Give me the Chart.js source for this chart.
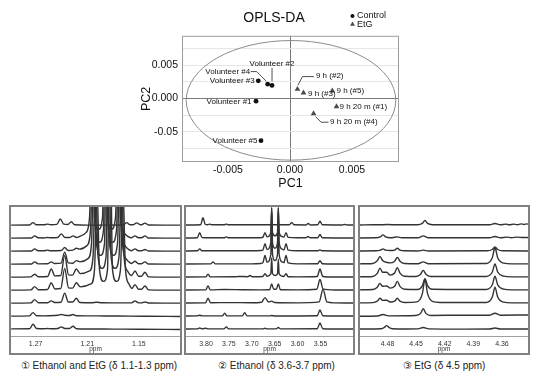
<!DOCTYPE html>
<html>
<head>
<meta charset="utf-8">
<script src="https://cdn.jsdelivr.net/npm/chart.js@4.4.1/dist/chart.umd.min.js"></script>
<style>
  body { margin:0; background:#fff; width:538px; height:386px; position:relative; overflow:hidden;
         font-family:"Liberation Sans", Arial, sans-serif; }
  canvas { position:absolute; }
  .panel { position:absolute; border:2px solid #808080; box-sizing:border-box; }
  .panel canvas { left:0; top:0; }
  .cap { position:absolute; top:360px; font-size:10px; line-height:12px; color:#222; text-align:center; white-space:nowrap; }
</style>
</head>
<body>
<canvas id="score" width="293" height="194" style="left:130px;top:0"></canvas>
<div class="panel" style="left:9px;top:205px;width:173px;height:150px"><canvas id="p1" width="169" height="146"></canvas></div>
<div class="panel" style="left:184px;top:205px;width:171px;height:150px"><canvas id="p2" width="167" height="146"></canvas></div>
<div class="panel" style="left:358px;top:205px;width:172px;height:150px"><canvas id="p3" width="168" height="146"></canvas></div>
<div class="cap" style="left:9px;width:180px">&#9312; Ethanol and EtG (&#948; 1.1-1.3 ppm)</div>
<div class="cap" style="left:186px;width:181px">&#9313; Ethanol (&#948; 3.6-3.7 ppm)</div>
<div class="cap" style="left:359px;width:170px">&#9314; EtG (&#948; 4.5 ppm)</div>
<script>
// ---- OPLS-DA scores ----
const controlNames = ["Volunteer #1", "Volunteer #2", "Volunteer #3", "Volunteer #4", "Volunteer #5"];
const controlPC1 = [-0.00274, -0.00145, -0.00256, -0.0018, -0.00234];
const controlPC2 = [-0.00042, 0.00195, 0.00263, 0.00213, -0.00634];
const etgNames = ["9 h (#2)", "9 h (#3)", "9 h (#5)", "9 h 20 m (#1)", "9 h 20 m (#4)"];
const etgPC1 = [0.0006, 0.00109, 0.00341, 0.00375, 0.0019];
const etgPC2 = [0.00138, 0.00083, 0.00113, -0.00123, -0.00228];
const xTicks = [-0.005, 0, 0.005];
const xTickLabels = ["-0.005", "0.000", "0.005"];
const yTicks = [-0.005, 0, 0.005];
const yTickLabels = ["-0.05", "0.000", "0.005"];
const yGrid = [-0.0075, -0.005, -0.0025, 0, 0.0025, 0.005, 0.0075];
const ellipse = { cx: 0.00008, cy: -0.00029, rx: 0.00845, ry: 0.00896 };

// ---- 1H NMR traces: [ppm, intensity, ppm, intensity, ...], top trace first ----
const ppmTicks1 = [1.27, 1.21, 1.15];
const ppmTicks2 = [3.80, 3.75, 3.70, 3.65, 3.60, 3.55];
const ppmTicks3 = [4.48, 4.45, 4.42, 4.39, 4.36];

const spectra1 = [
  [1.2985,0.03, 1.2771,0.04, 1.2731,0.22, 1.2691,0.05, 1.2605,0.05, 1.2565,0.10, 1.2525,0.06, 1.2454,0.08, 1.2414,0.50, 1.2374,0.10, 1.2326,0.08, 1.2286,0.28, 1.2246,0.05, 1.2100,0.03, 1.1900,0.03, 1.1682,0.04, 1.1642,0.22, 1.1602,0.05, 1.1565,0.05, 1.1525,0.20, 1.1485,0.06, 1.1469,0.06, 1.1429,0.18, 1.1389,0.04, 1.1200,0.03, 1.1022,0.03],
  [1.2985,0.03, 1.2752,0.04, 1.2712,0.20, 1.2672,0.05, 1.2605,0.04, 1.2565,0.08, 1.2525,0.05, 1.2442,0.07, 1.2402,0.35, 1.2362,0.08, 1.2306,0.07, 1.2266,0.20, 1.2226,0.08, 1.2190,0.15, 1.2115,0.45, 1.2074,1.6, 1.2045,8, 1.2016,1.6, 1.1970,0.7, 1.1923,1.6, 1.1894,14, 1.1865,1.6, 1.1819,0.7, 1.1772,1.6, 1.1743,8, 1.1714,1.6, 1.1673,0.45, 1.1620,0.12, 1.1585,0.06, 1.1545,0.20, 1.1505,0.05, 1.1469,0.05, 1.1429,0.20, 1.1389,0.04, 1.1200,0.03, 1.1022,0.03],
  [1.2985,0.03, 1.2752,0.04, 1.2712,0.20, 1.2672,0.05, 1.2605,0.05, 1.2565,0.10, 1.2525,0.05, 1.2403,0.07, 1.2363,0.30, 1.2323,0.08, 1.2268,0.10, 1.2228,0.25, 1.2190,0.18, 1.2104,0.45, 1.2063,1.6, 1.2034,8, 1.2005,1.6, 1.1959,0.7, 1.1912,1.6, 1.1883,14, 1.1854,1.6, 1.1808,0.7, 1.1761,1.6, 1.1732,8, 1.1703,1.6, 1.1662,0.45, 1.1610,0.12, 1.1585,0.06, 1.1545,0.20, 1.1505,0.05, 1.1469,0.05, 1.1429,0.15, 1.1389,0.04, 1.1200,0.03, 1.1022,0.03],
  [1.2985,0.03, 1.2752,0.04, 1.2712,0.20, 1.2672,0.05, 1.2559,0.06, 1.2519,0.20, 1.2479,0.07, 1.2405,0.10, 1.2363,0.95, 1.2321,0.12, 1.2268,0.10, 1.2228,0.30, 1.2185,0.20, 1.2092,0.45, 1.2051,1.6, 1.2022,8, 1.1993,1.6, 1.1947,0.7, 1.1900,1.6, 1.1871,14, 1.1842,1.6, 1.1796,0.7, 1.1749,1.6, 1.1720,8, 1.1691,1.6, 1.1650,0.45, 1.1600,0.12, 1.1585,0.08, 1.1545,0.25, 1.1505,0.06, 1.1469,0.06, 1.1429,0.20, 1.1389,0.04, 1.1200,0.03, 1.1022,0.03],
  [1.2985,0.03, 1.2755,0.05, 1.2712,0.25, 1.2669,0.06, 1.2561,0.08, 1.2519,0.65, 1.2477,0.12, 1.2408,0.15, 1.2363,1.70, 1.2318,0.20, 1.2271,0.18, 1.2228,0.65, 1.2180,0.30, 1.2074,0.50, 1.2033,1.6, 1.2004,8, 1.1975,1.6, 1.1929,0.7, 1.1882,1.6, 1.1853,14, 1.1824,1.6, 1.1778,0.7, 1.1731,1.6, 1.1702,8, 1.1673,1.6, 1.1632,0.5, 1.1586,0.15, 1.1545,0.50, 1.1504,0.10, 1.1470,0.10, 1.1429,0.40, 1.1388,0.05, 1.1200,0.03, 1.1022,0.03],
  [1.2985,0.03, 1.2755,0.05, 1.2712,0.30, 1.2669,0.06, 1.2561,0.08, 1.2519,0.60, 1.2477,0.12, 1.2408,0.15, 1.2363,1.70, 1.2318,0.20, 1.2271,0.18, 1.2228,0.60, 1.2180,0.28, 1.2057,0.50, 1.2016,1.6, 1.1987,8, 1.1958,1.6, 1.1912,0.7, 1.1865,1.6, 1.1836,14, 1.1807,1.6, 1.1761,0.7, 1.1714,1.6, 1.1685,8, 1.1656,1.6, 1.1615,0.5, 1.1583,0.15, 1.1545,0.45, 1.1504,0.10, 1.1470,0.10, 1.1429,0.35, 1.1388,0.05, 1.1200,0.03, 1.1022,0.03],
  [1.2985,0.03, 1.2755,0.05, 1.2712,0.30, 1.2669,0.06, 1.2559,0.06, 1.2519,0.20, 1.2479,0.08, 1.2405,0.10, 1.2363,0.80, 1.2321,0.12, 1.2268,0.12, 1.2228,0.40, 1.2188,0.08, 1.2050,0.06, 1.1990,0.10, 1.1930,0.06, 1.1800,0.05, 1.1585,0.05, 1.1545,0.20, 1.1505,0.05, 1.1469,0.05, 1.1429,0.12, 1.1389,0.04, 1.1200,0.03, 1.1022,0.03],
  [1.2985,0.03, 1.2771,0.05, 1.2731,0.30, 1.2691,0.06, 1.2600,0.05, 1.2480,0.08, 1.2442,0.10, 1.2402,0.15, 1.2362,0.10, 1.2306,0.08, 1.2266,0.15, 1.2226,0.06, 1.2100,0.05, 1.1900,0.04, 1.1600,0.03, 1.1400,0.02, 1.1022,0.0],
  [1.2985,0.05, 1.2771,0.06, 1.2731,0.40, 1.2691,0.08, 1.2605,0.06, 1.2565,0.08, 1.2525,0.06, 1.2442,0.08, 1.2402,0.20, 1.2362,0.08, 1.2306,0.08, 1.2266,0.25, 1.2226,0.06, 1.2100,0.04, 1.1800,0.03, 1.1500,0.02, 1.1022,0.0]
];

const spectra2 = [
  [3.8437,0.04, 3.8116,0.06, 3.8066,0.60, 3.8016,0.08, 3.7960,0.06, 3.7920,0.10, 3.7880,0.05, 3.7607,0.05, 3.7557,0.10, 3.7507,0.05, 3.7000,0.05, 3.6800,0.06, 3.6600,0.05, 3.6179,0.05, 3.6129,0.22, 3.6079,0.05, 3.5817,0.04, 3.5767,0.15, 3.5717,0.04, 3.5561,0.05, 3.5511,0.32, 3.5461,0.05, 3.5200,0.04, 3.5022,0.04, 3.4972,0.08, 3.4922,0.04, 3.4790,0.04],
  [3.8437,0.04, 3.8188,0.06, 3.8138,0.45, 3.8088,0.07, 3.7900,0.05, 3.7607,0.05, 3.7557,0.12, 3.7507,0.05, 3.6800,0.06, 3.6757,0.10, 3.6712,0.45, 3.6667,0.12, 3.6584,0.46, 3.6566,2.3, 3.6548,0.46, 3.6494,0.2, 3.6439,0.46, 3.6421,2.3, 3.6403,0.46, 3.6337,0.15, 3.6298,0.10, 3.6253,0.45, 3.6208,0.08, 3.6000,0.05, 3.5823,0.05, 3.5773,0.15, 3.5723,0.05, 3.5561,0.05, 3.5511,0.30, 3.5461,0.05, 3.5200,0.04, 3.4790,0.04],
  [3.8437,0.04, 3.8188,0.05, 3.8138,0.20, 3.8088,0.05, 3.7800,0.05, 3.7000,0.05, 3.6800,0.07, 3.6757,0.12, 3.6712,0.60, 3.6667,0.15, 3.6584,0.68, 3.6566,3.4, 3.6548,0.68, 3.6494,0.25, 3.6439,0.68, 3.6421,3.4, 3.6403,0.68, 3.6337,0.18, 3.6298,0.12, 3.6253,0.60, 3.6208,0.10, 3.6000,0.05, 3.5561,0.05, 3.5511,0.12, 3.5461,0.05, 3.5200,0.04, 3.4790,0.04],
  [3.8437,0.04, 3.7897,0.05, 3.7847,0.20, 3.7797,0.05, 3.7000,0.05, 3.6800,0.08, 3.6757,0.14, 3.6712,0.70, 3.6667,0.18, 3.6584,0.8, 3.6566,4.0, 3.6548,0.8, 3.6494,0.3, 3.6439,0.78, 3.6421,3.9, 3.6403,0.78, 3.6337,0.2, 3.6298,0.14, 3.6253,0.70, 3.6208,0.12, 3.6000,0.05, 3.5561,0.06, 3.5511,0.30, 3.5461,0.06, 3.5200,0.04, 3.4790,0.04],
  [3.8437,0.04, 3.8006,0.05, 3.7956,0.25, 3.7906,0.05, 3.7350,0.06, 3.7300,0.08, 3.7085,0.06, 3.7039,0.15, 3.6990,0.06, 3.6757,0.08, 3.6712,0.30, 3.6667,0.10, 3.6584,0.3, 3.6566,1.5, 3.6548,0.3, 3.6494,0.15, 3.6439,0.28, 3.6421,1.4, 3.6403,0.28, 3.6337,0.1, 3.6298,0.08, 3.6253,0.30, 3.6208,0.06, 3.6000,0.05, 3.5571,0.08, 3.5511,0.65, 3.5451,0.08, 3.5200,0.04, 3.4790,0.04],
  [3.8437,0.04, 3.8006,0.05, 3.7956,0.35, 3.7906,0.05, 3.7600,0.08, 3.7200,0.06, 3.6800,0.05, 3.6611,0.06, 3.6566,0.50, 3.6521,0.1, 3.6466,0.1, 3.6421,0.50, 3.6376,0.06, 3.6000,0.05, 3.5581,0.1, 3.5511,0.85, 3.5441,0.1, 3.5200,0.04, 3.4790,0.04],
  [3.8437,0.04, 3.8011,0.05, 3.7956,0.40, 3.7901,0.06, 3.7500,0.07, 3.7000,0.06, 3.6787,0.1, 3.6712,0.45, 3.6637,0.12, 3.6566,0.18, 3.6500,0.08, 3.6000,0.05, 3.5530,0.12, 3.5445,1.10, 3.5360,0.12, 3.5200,0.05, 3.4790,0.04],
  [3.8437,0.04, 3.8188,0.05, 3.8138,0.10, 3.8088,0.05, 3.7642,0.05, 3.7592,0.25, 3.7542,0.05, 3.7205,0.05, 3.7155,0.30, 3.7105,0.05, 3.6600,0.05, 3.6566,0.08, 3.6500,0.04, 3.5571,0.06, 3.5511,0.50, 3.5451,0.06, 3.5200,0.04, 3.4790,0.04],
  [3.8437,0.04, 3.8188,0.05, 3.8138,0.12, 3.8088,0.05, 3.8000,0.10, 3.7950,0.05, 3.7607,0.05, 3.7557,0.20, 3.7507,0.05, 3.6762,0.05, 3.6712,0.10, 3.6662,0.05, 3.6471,0.05, 3.6421,0.15, 3.6371,0.05, 3.5571,0.06, 3.5511,0.50, 3.5451,0.06, 3.5200,0.04, 3.4790,0.04]
];

const spectra3 = [
  [4.5088,0.04, 4.4950,0.06, 4.4900,0.05, 4.4800,0.07, 4.4700,0.05, 4.4600,0.06, 4.4482,0.06, 4.4435,0.16, 4.4407,0.38, 4.4379,0.16, 4.4332,0.06, 4.4200,0.05, 4.4000,0.06, 4.3850,0.05, 4.3728,0.05, 4.3673,0.15, 4.3618,0.05, 4.3560,0.10, 4.3520,0.05, 4.3480,0.10, 4.3440,0.06, 4.3400,0.12, 4.3370,0.08, 4.3340,0.12, 4.3327,0.10],
  [4.5088,0.04, 4.4922,0.05, 4.4875,0.12, 4.4847,0.28, 4.4819,0.12, 4.4772,0.06, 4.4750,0.06, 4.4700,0.12, 4.4650,0.05, 4.4480,0.05, 4.4425,0.20, 4.4370,0.05, 4.4100,0.05, 4.3850,0.05, 4.3728,0.05, 4.3673,0.15, 4.3618,0.05, 4.3550,0.10, 4.3500,0.06, 4.3440,0.10, 4.3380,0.07, 4.3327,0.08],
  [4.5088,0.04, 4.4922,0.05, 4.4875,0.10, 4.4847,0.20, 4.4819,0.10, 4.4772,0.07, 4.4725,0.11, 4.4697,0.25, 4.4669,0.11, 4.4622,0.05, 4.4480,0.04, 4.4425,0.10, 4.4370,0.04, 4.3755,0.05, 4.3701,0.15, 4.3673,0.35, 4.3645,0.15, 4.3591,0.05, 4.3327,0.04],
  [4.5088,0.05, 4.4954,0.08, 4.4907,0.28, 4.4879,0.62, 4.4851,0.30, 4.4800,0.15, 4.4772,0.12, 4.4725,0.25, 4.4697,0.55, 4.4669,0.25, 4.4622,0.08, 4.4480,0.06, 4.4425,0.20, 4.4370,0.06, 4.3765,0.08, 4.3701,0.52, 4.3673,1.30, 4.3645,0.52, 4.3581,0.10, 4.3500,0.05, 4.3327,0.05],
  [4.5088,0.05, 4.4954,0.08, 4.4907,0.32, 4.4879,0.72, 4.4851,0.40, 4.4808,0.40, 4.4772,0.18, 4.4725,0.34, 4.4697,0.75, 4.4669,0.34, 4.4622,0.10, 4.4500,0.08, 4.4453,0.25, 4.4425,0.55, 4.4397,0.25, 4.4350,0.08, 4.3765,0.08, 4.3701,0.42, 4.3673,1.05, 4.3645,0.42, 4.3581,0.10, 4.3500,0.05, 4.3327,0.05],
  [4.5088,0.05, 4.4954,0.08, 4.4907,0.25, 4.4879,0.55, 4.4851,0.32, 4.4808,0.35, 4.4772,0.18, 4.4725,0.32, 4.4697,0.70, 4.4669,0.32, 4.4622,0.10, 4.4482,0.08, 4.4435,0.36, 4.4407,0.90, 4.4379,0.36, 4.4332,0.10, 4.3765,0.08, 4.3701,0.44, 4.3673,1.10, 4.3645,0.44, 4.3581,0.10, 4.3500,0.05, 4.3327,0.05],
  [4.5088,0.05, 4.4954,0.07, 4.4907,0.18, 4.4879,0.40, 4.4851,0.24, 4.4808,0.25, 4.4772,0.12, 4.4725,0.18, 4.4697,0.40, 4.4669,0.18, 4.4622,0.08, 4.4492,0.12, 4.4435,0.74, 4.4407,1.85, 4.4379,0.74, 4.4322,0.14, 4.4250,0.08, 4.3765,0.08, 4.3701,0.50, 4.3673,1.25, 4.3645,0.50, 4.3581,0.10, 4.3500,0.05, 4.3327,0.05],
  [4.5088,0.02, 4.4902,0.04, 4.4847,0.15, 4.4792,0.05, 4.4505,0.08, 4.4453,0.24, 4.4425,0.60, 4.4397,0.24, 4.4345,0.08, 4.4000,0.10, 4.3728,0.10, 4.3673,0.25, 4.3618,0.10, 4.3327,0.12],
  [4.5088,0.04, 4.4863,0.06, 4.4836,0.14, 4.4808,0.30, 4.4780,0.14, 4.4753,0.06, 4.4600,0.04, 4.4480,0.05, 4.4425,0.15, 4.4370,0.05, 4.4000,0.03, 4.3728,0.04, 4.3673,0.12, 4.3618,0.04, 4.3327,0.04]
];

// annotation placement, in pixels relative to each marker
const labelPos = {
  "Volunteer #1": { dx: -4.5, dy: 0.5, align: "right" },
  "Volunteer #2": { dx: 0, dy: -22, align: "center", lead: [[0, -17.5], [0, -4]] },
  "Volunteer #3": { dx: -3.5, dy: 0, align: "right" },
  "Volunteer #4": { dx: -17.5, dy: -12.6, align: "right", lead: [[-17, -12.6], [-11, -12.6], [-1.5, -3]] },
  "Volunteer #5": { dx: -3.5, dy: 0, align: "right" },
  "9 h (#2)": { dx: 18.5, dy: -13.6, align: "left", lead: [[0.5, -4], [5, -12.6], [16.5, -12.6]] },
  "9 h (#3)": { dx: 4.5, dy: 0.5, align: "left" },
  "9 h (#5)": { dx: 4.2, dy: 0, align: "left" },
  "9 h 20 m (#1)": { dx: 3, dy: 0, align: "left" },
  "9 h 20 m (#4)": { dx: 16.5, dy: 8.6, align: "left", lead: [[2, 3], [7.5, 8.6], [15, 8.6]] }
};

const FONT = '"Liberation Sans", Arial, sans-serif';
Chart.defaults.font.family = FONT;
Chart.defaults.color = '#222';

const near = (a, b) => Math.abs(a - b) < 1e-7;

const scorePlot = {
  id: 'scorePlot',
  beforeDatasetsDraw(chart) {
    const { ctx, chartArea: a, scales: { x, y } } = chart;
    ctx.save();
    ctx.strokeStyle = '#8c8c8c';
    ctx.lineWidth = 1;
    const cx = x.getPixelForValue(ellipse.cx), cy = y.getPixelForValue(ellipse.cy);
    const rx = Math.abs(x.getPixelForValue(ellipse.cx + ellipse.rx) - cx);
    const ry = Math.abs(y.getPixelForValue(ellipse.cy + ellipse.ry) - cy);
    ctx.beginPath();
    ctx.ellipse(cx, cy, rx, ry, 0, 0, 2 * Math.PI);
    ctx.stroke();
    ctx.strokeStyle = '#9c9c9c';
    ctx.strokeRect(a.left + 0.5, a.top + 0.5, a.width - 1, a.height - 1);
    ctx.restore();
  },
  afterDatasetsDraw(chart) {
    const { ctx, chartArea: a } = chart;
    const names = [controlNames, etgNames];
    ctx.save();
    ctx.font = '8px ' + FONT;
    ctx.fillStyle = '#111';
    ctx.strokeStyle = '#222';
    ctx.lineWidth = 0.8;
    ctx.textBaseline = 'middle';
    chart.data.datasets.forEach((ds, di) => {
      chart.getDatasetMeta(di).data.forEach((pt, i) => {
        const name = names[di][i];
        const p = labelPos[name];
        ctx.textAlign = p.align;
        ctx.fillText(name, pt.x + p.dx, pt.y + p.dy);
        if (p.lead) {
          ctx.beginPath();
          p.lead.forEach(([lx, ly], j) => j ? ctx.lineTo(pt.x + lx, pt.y + ly) : ctx.moveTo(pt.x + lx, pt.y + ly));
          ctx.stroke();
        }
      });
    });
    // legend
    const lx = a.right - 46.5;
    ctx.font = '9px ' + FONT;
    ctx.textAlign = 'left';
    chart.data.datasets.forEach((ds, di) => {
      const ly = 16 + di * 8.3;
      ctx.fillStyle = ds.backgroundColor;
      Chart.helpers.drawPoint(ctx, { pointStyle: ds.pointStyle, radius: ds.pointRadius * 0.85, borderWidth: 0 }, lx, ly);
      ctx.fillStyle = '#111';
      ctx.fillText(ds.label, lx + 4.5, ly);
    });
    ctx.restore();
  }
};

new Chart(document.getElementById('score'), {
  type: 'scatter',
  data: {
    datasets: [
      { label: 'Control', data: controlPC1.map((v, i) => ({ x: v, y: controlPC2[i] })),
        pointStyle: 'circle', pointRadius: 2.4, backgroundColor: '#111', borderColor: '#111', borderWidth: 0 },
      { label: 'EtG', data: etgPC1.map((v, i) => ({ x: v, y: etgPC2[i] })),
        pointStyle: 'triangle', pointRadius: 3.3, backgroundColor: '#4a4a4a', borderColor: '#4a4a4a', borderWidth: 0 }
    ]
  },
  options: {
    responsive: false, animation: false, devicePixelRatio: 1,
    layout: { padding: { left: 19, right: 24, top: 0, bottom: 0 } },
    plugins: {
      legend: { display: false }, tooltip: { enabled: false },
      title: { display: true, text: 'OPLS-DA', color: '#111', font: { size: 14, weight: 'normal' }, padding: { top: 10, bottom: 9 } }
    },
    scales: {
      x: {
        type: 'linear', min: -0.00871, max: 0.00879,
        afterBuildTicks: s => { s.ticks = xTicks.map(v => ({ value: v })); },
        afterFit: s => { s.height = 32; },
        border: { display: false },
        grid: { drawTicks: false, color: c => (c.tick && near(c.tick.value, 0)) ? '#7a7a7a' : 'rgba(0,0,0,0)' },
        ticks: { padding: 2, color: '#111', font: { size: 10.5 }, maxRotation: 0,
          callback: v => { const i = xTicks.findIndex(t => near(t, v)); return i < 0 ? '' : xTickLabels[i]; } },
        title: { display: true, text: 'PC1', color: '#111', font: { size: 12.5 }, padding: { top: 0, bottom: 2.5 } }
      },
      y: {
        type: 'linear', min: -0.00953, max: 0.00938,
        afterBuildTicks: s => { s.ticks = yGrid.map(v => ({ value: v })); },
        afterFit: s => { s.width = 33; },
        border: { display: false },
        grid: { drawTicks: false, color: c => (c.tick && near(c.tick.value, 0)) ? '#7a7a7a' : '#e6e6e6' },
        ticks: { padding: 4, color: '#111', font: { size: 10.5 },
          callback: v => { const i = yTicks.findIndex(t => near(t, v)); return i < 0 ? '' : yTickLabels[i]; } },
        title: { display: true, text: 'PC2', color: '#111', font: { size: 12.5 }, padding: { top: -10 } }
      }
    }
  },
  plugins: [scorePlot]
});

function drawSpectra(id, traces, ticks, min, max) {
  new Chart(document.getElementById(id), {
    type: 'line',
    data: {
      datasets: traces.map((t, k) => {
        const offset = traces.length - 1 - k;
        const pts = [];
        for (let i = 0; i < t.length; i += 2) pts.push({ x: t[i], y: t[i + 1] + offset });
        return { data: pts, borderColor: '#333', borderWidth: 1.4, pointRadius: 0,
                 cubicInterpolationMode: 'monotone', fill: false };
      })
    },
    options: {
      responsive: false, animation: false, devicePixelRatio: 1,
      layout: { padding: 0 },
      plugins: { legend: { display: false }, tooltip: { enabled: false } },
      scales: {
        x: {
          type: 'linear', reverse: true, min: min, max: max,
          afterBuildTicks: s => { s.ticks = ticks.map(v => ({ value: v })); },
          afterFit: s => { s.height = 17; },
          grid: { display: false, drawTicks: false },
          border: { display: true, color: '#a0a0a0', dash: [1, 1.5], width: 1 },
          ticks: { padding: 4, color: '#333', font: { size: 7 }, maxRotation: 0, autoSkip: false,
                   callback: v => v.toFixed(2) },
          title: { display: true, text: 'ppm', color: '#333', font: { size: 6.5 }, padding: 0 }
        },
        y: { display: false, min: -0.5, max: 9.42 }
      }
    }
  });
}

drawSpectra('p1', spectra1, ppmTicks1, 1.1022, 1.2987);
drawSpectra('p2', spectra2, ppmTicks2, 3.479, 3.8437);
drawSpectra('p3', spectra3, ppmTicks3, 4.3327, 4.5088);
</script>
</body>
</html>
